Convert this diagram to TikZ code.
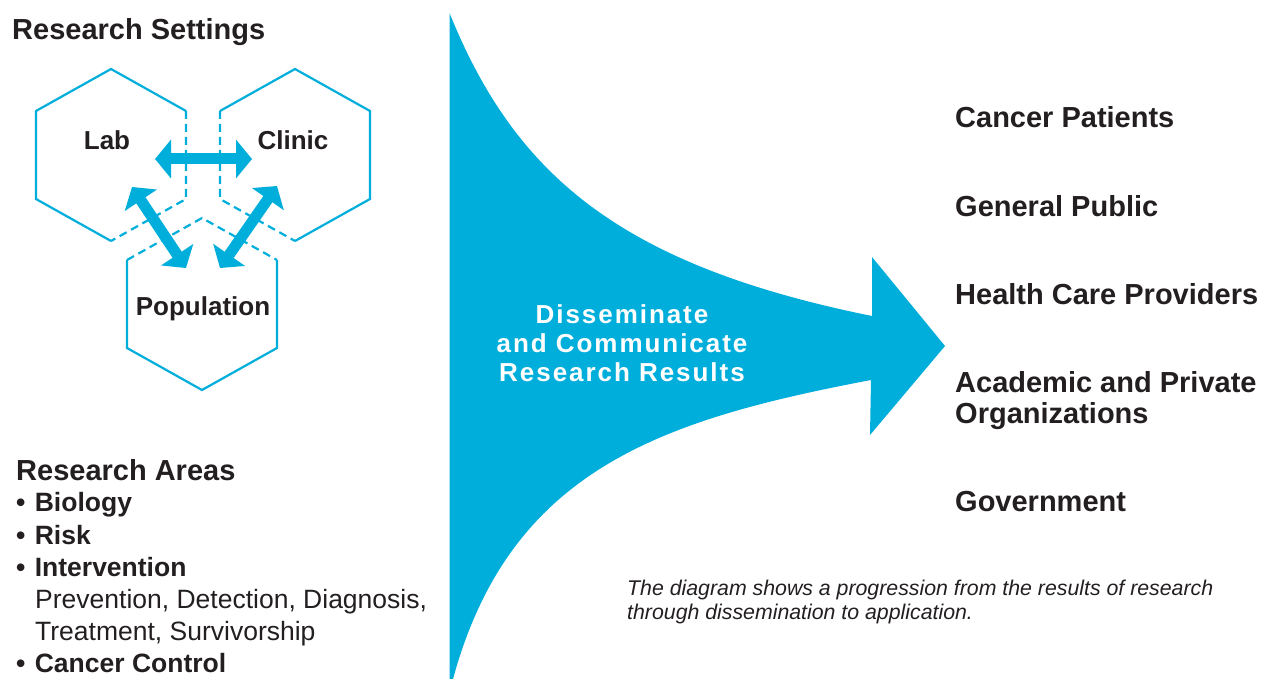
\documentclass[tikz,border=0pt]{standalone}
\usepackage{fontspec}
\setmainfont{Liberation Sans}
\newfontfamily\widefont[LetterSpace=7.5]{Liberation Sans}
\usetikzlibrary{arrows.meta}
\definecolor{nciblue}{RGB}{0,174,219}
\definecolor{txt}{RGB}{35,31,32}
\begin{document}
\begin{tikzpicture}[x=1pt,y=-1pt,
  hexline/.style={draw=nciblue, line width=2.2pt, line join=miter},
  hexdash/.style={draw=nciblue, line width=2.2pt, dash pattern=on 8pt off 5pt},
  dblarrow/.style={draw=nciblue, line width=11pt,
     {Triangle[length=16pt,width=38pt]}-{Triangle[length=16pt,width=38pt]}},
  hexlbl/.style={text=txt, font=\bfseries\fontsize{26}{29}\selectfont, inner sep=0, anchor=base},
  head/.style={text=txt, font=\bfseries\fontsize{29}{33}\selectfont, inner sep=0, anchor=base west},
  item/.style={text=txt, font=\bfseries\fontsize{26.5}{32}\selectfont, inner sep=0, anchor=base west},
  plain/.style={text=txt, font=\fontsize{26.5}{32}\selectfont, inner sep=0, anchor=base west},
  note/.style={text=txt, font=\itshape\fontsize{21.3}{24}\selectfont, inner sep=0, anchor=base west},
  centre/.style={text=white, font=\widefont\bfseries\fontsize{26}{29}\selectfont, inner sep=0, align=center}
]
\useasboundingbox (0,0) rectangle (1263,679);

% funnel arrow
\fill[nciblue] (449.5,13) .. controls (515,175) and (620,265) .. (872,316)
   -- (872,257) -- (945,346) -- (870,435) -- (871,380)
   .. controls (660,420) and (510,470) .. (453,679) -- (449.5,679) -- cycle;
\node[centre] (dis) at (622,343) {Disseminate\\and Communicate\\Research Results};

% hexagons
% Lab (111,155)
\draw[hexline] (186,111) -- (111,69) -- (36,111) -- (36,199) -- (111,241);
\draw[hexdash] (186,111) -- (186,199) -- (111,241);
% Clinic (295,155)
\draw[hexline] (220,111) -- (295,69) -- (370,111) -- (370,199) -- (295,241);
\draw[hexdash] (220,111) -- (220,199) -- (295,241);
% Population (202,304)
\draw[hexline] (127,260) -- (127,348) -- (202,390) -- (277,348) -- (277,260);
\draw[hexdash] (127,260) -- (202,218) -- (277,260);

\node[hexlbl] (lab) at (107,149.5) {Lab};
\node[hexlbl] (clinic) at (293,149.5) {Clinic};
\node[hexlbl] (pop) at (203,315.5) {Population};

\coordinate (h1) at (155,159);
\coordinate (h2) at (252,159);
\coordinate (l1) at (132,187);
\coordinate (l2) at (186,268);
\coordinate (r1) at (277,186);
\coordinate (r2) at (220,268);
\draw[dblarrow] (h1) -- (h2);
\draw[dblarrow] (l1) -- (l2);
\draw[dblarrow] (r1) -- (r2);

\node[head] (rs) at (12,40) {Research Settings};

% research areas
\node[head] (ra) at (16,480) {Research Areas};
\node[item] (b1) at (16,511.5) {•\hspace{2pt} Biology};
\node[item] (b2) at (16,544.5) {•\hspace{2pt} Risk};
\node[item] (b3) at (16,576.5) {•\hspace{2pt} Intervention};
\node[plain] (p1) at (35,608.5) {Prevention, Detection, Diagnosis,};
\node[plain] (p2) at (35,640.5) {Treatment, Survivorship};
\node[item] (b4) at (16,672.5) {•\hspace{2pt} Cancer Control};

% audiences
\node[head] (a1) at (955,128) {Cancer Patients};
\node[head] (a2) at (955,216) {General Public};
\node[head] (a3) at (955,304) {Health Care Providers};
\node[head] (a4) at (955,392) {Academic and Private};
\node[head] (a5) at (955,423) {Organizations};
\node[head] (a6) at (955,511) {Government};

\node[note] (n1) at (627,595) {The diagram shows a progression from the results of research};
\node[note] (n2) at (627,619) {through dissemination to application.};
\end{tikzpicture}
\end{document}
